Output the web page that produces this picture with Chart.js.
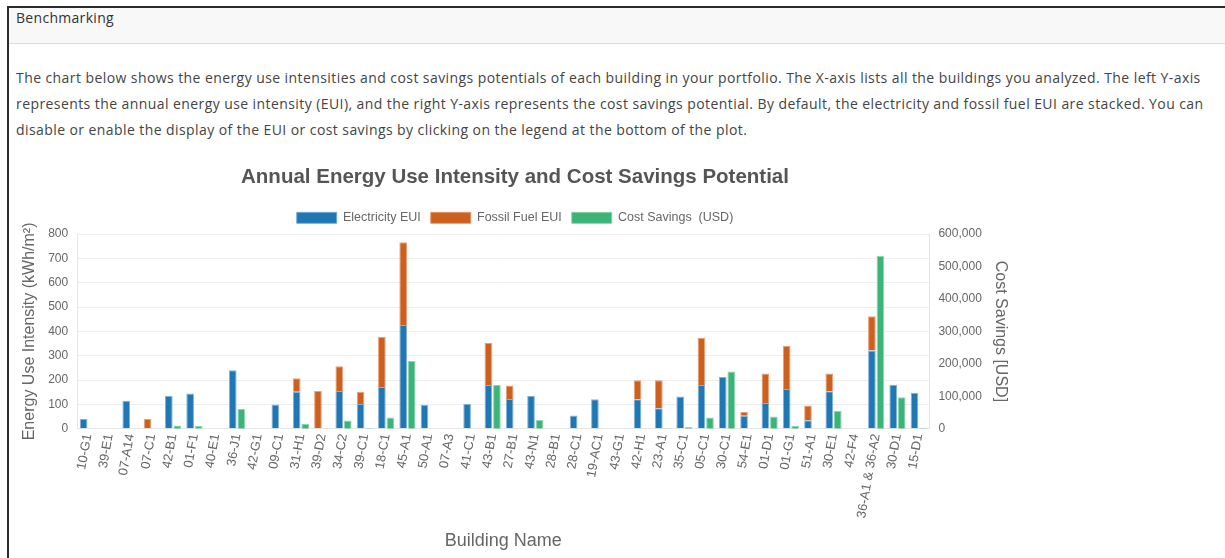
<!DOCTYPE html>
<html>
<head>
<meta charset="utf-8">
<script src="https://cdn.jsdelivr.net/npm/chart.js"></script>
<style>
  html, body { margin: 0; padding: 0; background: #fff; width: 1225px; height: 558px; overflow: hidden; }
  .panel { position: absolute; left: 7px; top: 6px; width: 1240px; height: 600px; border: 2px solid #2b2b2b; box-sizing: border-box; }
  .panel-head { height: 36px; background: #f8f8f8; border-bottom: 1px solid #dcdcdc; font: 14px "Open Sans", sans-serif; letter-spacing: 0.3px; color: #333; padding: 0 0 0 7px; box-sizing: border-box; }
  .panel-body { padding: 0 0 0 7px; font: 14px "Open Sans", sans-serif; letter-spacing: 0.42px; color: #444; line-height: 26px; }
  .panel-body p { margin: 21px 0 0 0; white-space: nowrap; }
  #wrap { position: absolute; left: 14px; top: 158px; width: 1002px; height: 400px; }
</style>
</head>
<body>
<div class="panel">
  <div class="panel-head">Benchmarking</div>
  <div class="panel-body">
    <p>The chart below shows the energy use intensities and cost savings potentials of each building in your portfolio. The X-axis lists all the buildings you analyzed. The left Y-axis<br>represents the annual energy use intensity (EUI), and the right Y-axis represents the cost savings potential. By default, the electricity and fossil fuel EUI are stacked. You can<br>disable or enable the display of the EUI or cost savings by clicking on the legend at the bottom of the plot.</p>
  </div>
</div>
<div id="wrap"><canvas id="eui"></canvas></div>
<script>
const buildings = ['10-G1', '39-E1', '07-A14', '07-C1', '42-B1', '01-F1', '40-E1', '36-J1', '42-G1', '09-C1',
  '31-H1', '39-D2', '34-C2', '39-C1', '18-C1', '45-A1', '50-A1', '07-A3', '41-C1', '43-B1',
  '27-B1', '43-N1', '28-B1', '28-C1', '19-AC1', '43-G1', '42-H1', '23-A1', '35-C1', '05-C1',
  '30-C1', '54-E1', '01-D1', '01-G1', '51-A1', '30-E1', '42-F4', '36-A1 & 36-A2', '30-D1', '15-D1'];

// EUI in kWh/m2
const electricityEui = [40, 0, 115, 0, 135, 145, 0, 240, 0, 100,
  152, 0, 155, 102, 171, 426, 99, 0, 102, 180,
  122, 136, 0, 54, 121, 0, 121, 84, 132, 180,
  213, 53, 106, 163, 35, 154, 0, 321, 181, 148];
const fossilEui = [0, 0, 0, 40, 0, 0, 0, 0, 0, 0,
  55, 155, 102, 50, 206, 340, 0, 0, 0, 172,
  56, 0, 0, 0, 0, 0, 78, 115, 0, 194,
  0, 16, 121, 178, 60, 73, 0, 141, 0, 0];
// USD
const costSavings = [0, 0, 0, 500, 10000, 8000, 0, 61000, 0, 0,
  15000, 1000, 25000, 2000, 34600, 209000, 0, 0, 0, 134700,
  0, 26600, 0, 0, 0, 0, 0, 1500, 5000, 34600,
  176600, 0, 37600, 9000, 0, 55000, 0, 533500, 97000, 2000];

const euiTicks = [0, 100, 200, 300, 400, 500, 600, 700, 800];
const costTicks = [0, 100000, 200000, 300000, 400000, 500000, 600000];

Chart.defaults.font.family = '"Liberation Sans", Arial, sans-serif';
Chart.defaults.color = '#666';

const ctx = document.getElementById('eui').getContext('2d');
new Chart(ctx, {
  type: 'bar',
  data: {
    labels: buildings,
    datasets: [{
      label: 'Electricity EUI',
      data: electricityEui,
      backgroundColor: 'rgb(31,119,180)',
      borderColor: 'rgba(120,170,215,0.9)',
      borderWidth: 1,
      stack: 'eui',
      yAxisID: 'y'
    }, {
      label: 'Fossil Fuel EUI',
      data: fossilEui,
      backgroundColor: 'rgb(204,96,28)',
      borderColor: 'rgba(230,150,110,0.9)',
      borderWidth: 1,
      stack: 'eui',
      yAxisID: 'y'
    }, {
      label: 'Cost Savings  (USD)',
      data: costSavings,
      backgroundColor: 'rgb(60,179,120)',
      borderColor: 'rgba(130,210,165,0.9)',
      borderWidth: 1,
      stack: 'cost',
      yAxisID: 'y1'
    }]
  },
  options: {
    responsive: true,
    maintainAspectRatio: false,
    animation: false,
    layout: { padding: { left: 0, right: 0, top: 0, bottom: 2 } },
    plugins: {
      title: {
        display: true,
        text: 'Annual Energy Use Intensity and Cost Savings Potential',
        color: '#555',
        font: { size: 20.5, weight: 'bold' },
        padding: { top: 7, bottom: 12 }
      },
      legend: {
        position: 'top',
        labels: { boxWidth: 40, boxHeight: 11, font: { size: 12.5 }, padding: 10 }
      },
      tooltip: { enabled: false }
    },
    scales: {
      x: {
        grid: { display: false, drawTicks: false },
        border: { display: true, color: '#e6e6e6' },
        ticks: { minRotation: 80, maxRotation: 80, font: { size: 13 }, autoSkip: false, padding: 4 },
        title: { display: true, text: 'Building Name', font: { size: 18 }, padding: { top: 7, bottom: 4 } },
        afterFit: axis => { axis.paddingLeft = 0; axis.paddingRight = 0; }
      },
      y: {
        position: 'left',
        stacked: true,
        min: 0,
        max: 800,
        afterBuildTicks: axis => { axis.ticks = euiTicks.map(v => ({ value: v })); },
        grid: { color: '#eeeeee', drawTicks: false },
        border: { color: '#e6e6e6' },
        ticks: { font: { size: 12 }, padding: 9 },
        title: { display: true, text: 'Energy Use Intensity (kWh/m²)', font: { size: 16 }, padding: { top: 6, bottom: 0 } }
      },
      y1: {
        position: 'right',
        stacked: true,
        min: 0,
        max: 600000,
        afterBuildTicks: axis => { axis.ticks = costTicks.map(v => ({ value: v })); },
        grid: { display: false, drawTicks: false },
        border: { color: '#e6e6e6' },
        ticks: { font: { size: 12 }, padding: 9, callback: v => v.toLocaleString('en-US') },
        title: { display: true, text: 'Cost Savings [USD]', font: { size: 16 }, padding: { top: 6, bottom: 0 } }
      }
    }
  }
});
</script>
</body>
</html>
